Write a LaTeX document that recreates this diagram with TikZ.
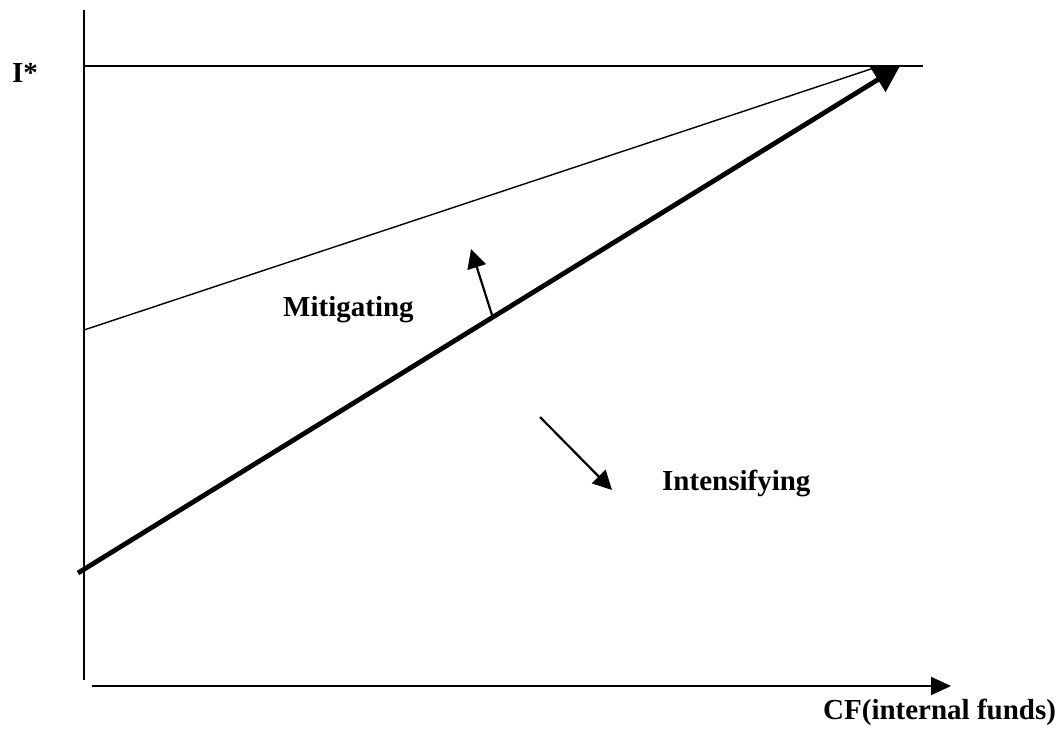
\documentclass[tikz,border=0pt]{standalone}
\usepackage{fontspec}
\setmainfont{Liberation Serif}
\usetikzlibrary{arrows.meta}

\begin{document}
\begin{tikzpicture}[
		x=1pt, y=-1pt,
		% Estilos de ejes y curvas
		eje/.style={line width=1.8pt, draw=black},
		eje_flecha/.style={eje, -{Triangle[length=20pt, width=18pt]}},
		recta/.style={line width=1.4pt, draw=black},
		recta_gruesa/.style={line width=4.8pt, draw=black, -{Triangle[length=26pt, width=28pt]}},
		flecha/.style={line width=2.2pt, draw=black, -{Triangle[length=19pt, width=19pt]}},
		% Estilo de etiquetas
		etiqueta/.style={font=\bfseries\fontsize{29}{33}\selectfont, inner sep=0pt}
		]
		
		\useasboundingbox (0,0) rectangle (1062,735);
		
		% --- PUNTOS DE REFERENCIA ---
		\coordinate (eje_sup) at (84,10);
		\coordinate (eje_inf) at (84,680);
		\coordinate (cf_ini) at (92,686);
		\coordinate (cf_fin) at (951,686);
		\coordinate (istar_ini) at (84,66);
		\coordinate (istar_fin) at (923,66);
		\coordinate (mitig_ini) at (84,330);
		\coordinate (mitig_fin) at (880,66);
		\coordinate (base_ini) at (78,573);
		\coordinate (base_fin) at (900,66);
		
		% --- EJES ---
		\draw[eje] (eje_sup) -- (eje_inf);
		\draw[eje_flecha] (cf_ini) -- (cf_fin);
		
		% --- RECTAS ---
		\draw[recta] (istar_ini) -- (istar_fin);
		\draw[recta] (mitig_ini) -- (mitig_fin);
		\draw[recta_gruesa] (base_ini) -- (base_fin);
		
		% --- FLECHAS DE DESPLAZAMIENTO ---
		\coordinate (sube_ini) at (492,315);
		\coordinate (sube_fin) at (471,249);
		\coordinate (baja_ini) at (540,417);
		\coordinate (baja_fin) at (612,490);
		\draw[flecha] (sube_ini) -- (sube_fin);
		\draw[flecha] (baja_ini) -- (baja_fin);
		
		% --- ETIQUETAS ---
		\node[etiqueta, anchor=base west] (istar) at (12,83) {I*};
		\node[etiqueta, anchor=base west] (mitig) at (283,316) {Mitigating};
		\node[etiqueta, anchor=base west] (intens) at (662,490) {Intensifying};
		\node[etiqueta, anchor=base west] (cf) at (823,719) {CF(internal funds)};
		
	\end{tikzpicture}
\end{document}
